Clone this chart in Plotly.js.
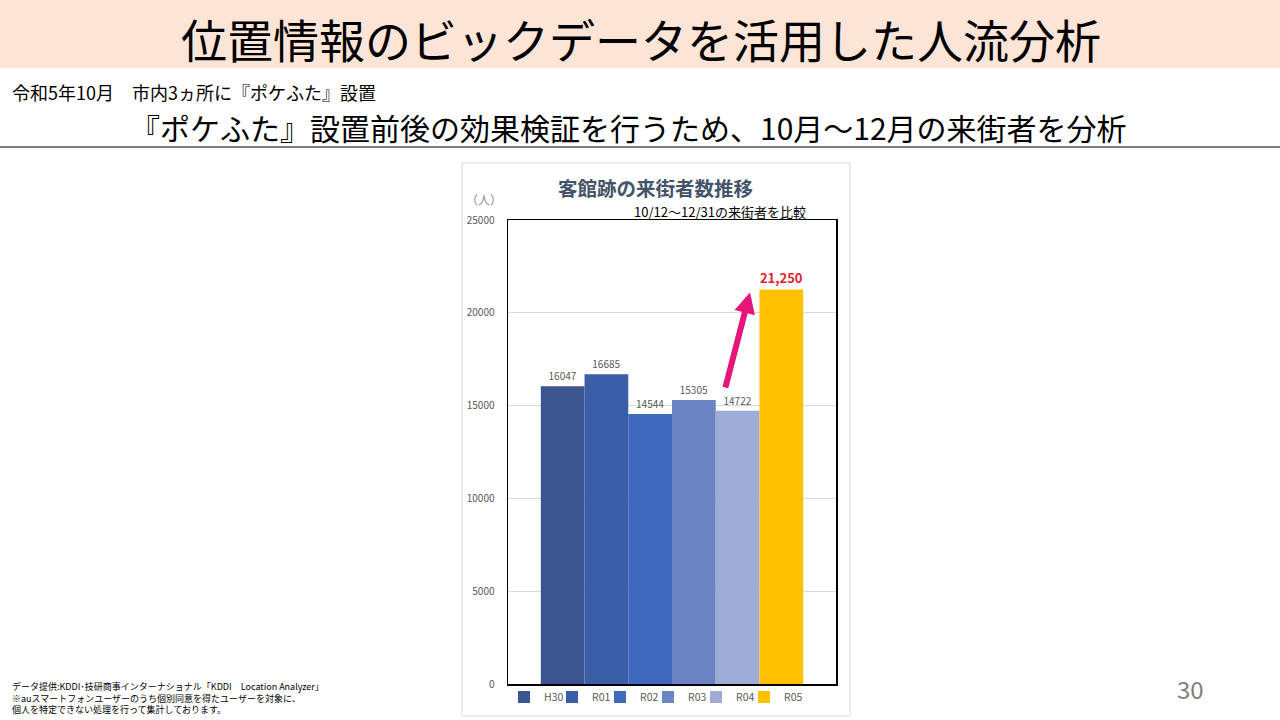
<!DOCTYPE html>
<html><head><meta charset="utf-8">
<script src="https://cdn.plot.ly/plotly-3.0.1.min.js"></script>
<style>html,body{margin:0;padding:0;background:#fff;}#chart{width:1280px;height:720px;}</style>
</head><body><div id="chart"></div>
<script>
const categories = ['H30','R01','R02','R03','R04','R05'];
const visitors = [16047, 16685, 14544, 15305, 14722, 21250];
const barColors = ['#3b5591','#3a5ea8','#3e69bd','#6a84c4','#a0acd8','#ffc000'];
const yTicks = [0, 5000, 10000, 15000, 20000, 25000];

const FONT = '"Noto Sans CJK JP", "Noto Sans", sans-serif';
const legendIds = categories.map((c, i) => i === 0 ? 'legend' : 'legend' + (i + 1));
const legendLeftPx = [504, 552, 600, 648, 696, 744];

const traces = categories.map((c, i) => {
  const last = i === categories.length - 1;
  return {
    type: 'bar', name: c, x: ['来街者'], y: [visitors[i]],
    marker: {color: barColors[i]},
    legend: legendIds[i],
    texttemplate: last ? '%{y:,}' : '%{y:d}',
    textposition: 'outside', cliponaxis: false,
    textfont: last ? {color: '#e0202a', size: 13, family: FONT, weight: 'bold'} : {color: '#595959', size: 10, family: FONT},
    hoverinfo: 'skip'
  };
});

const layout = {
  width: 1280, height: 720,
  margin: {l: 0, r: 0, t: 0, b: 0},
  paper_bgcolor: '#ffffff', plot_bgcolor: '#ffffff',
  font: {family: FONT, color: '#000'},
  barmode: 'group', bargap: 0.2, bargroupgap: 0,
  showlegend: true,
  xaxis: {domain: [508/1280, 836/1280], showticklabels: false, showgrid: false, zeroline: false,
    showline: true, mirror: true, linecolor: '#000', linewidth: 1.5, fixedrange: true},
  yaxis: {domain: [36/720, 500/720], range: [0, 25000], tickvals: yTicks, tickformat: 'd', showgrid: true,
    gridcolor: '#d9d9d9', gridwidth: 1, zeroline: false, showline: true, mirror: true,
    linecolor: '#000', linewidth: 1.5, ticks: '', ticklabelstandoff: 10,
    tickfont: {size: 10, color: '#595959', family: FONT}},
  shapes: [
    {type: 'rect', xref: 'paper', yref: 'paper', x0: 0, x1: 1, y0: 1 - 68/720, y1: 1, fillcolor: '#fce4d6', line: {width: 0}, layer: 'below'},
    {type: 'line', xref: 'paper', yref: 'paper', x0: 0, x1: 1, y0: 1 - 147/720, y1: 1 - 147/720, line: {color: '#000', width: 1}},
    {type: 'rect', xref: 'paper', yref: 'paper', x0: 462/1280, x1: 850/1280, y0: 1 - 716/720, y1: 1 - 163/720, line: {color: '#d9d9d9', width: 1}, fillcolor: 'rgba(0,0,0,0)', layer: 'below'}
  ],
  annotations: [
    {text: '位置情報のビックデータを活用した人流分析', xref: 'paper', yref: 'paper', x: 641/1280, y: 1 - 38/720, xanchor: 'center', yanchor: 'middle', showarrow: false, font: {size: 46, color: '#000', family: FONT}},
    {text: '令和5年10月　市内3ヵ所に『ポケふた』設置', xref: 'paper', yref: 'paper', x: 10/1280, y: 1 - 92/720, xanchor: 'left', yanchor: 'middle', showarrow: false, font: {size: 18, color: '#000', family: FONT}},
    {text: '『ポケふた』設置前後の効果検証を行うため、10月～12月の来街者を分析', xref: 'paper', yref: 'paper', x: 628/1280, y: 1 - 127/720, xanchor: 'center', yanchor: 'middle', showarrow: false, font: {size: 30, color: '#000', family: FONT}},
    {text: '<b>客館跡の来街者数推移</b>', xref: 'paper', yref: 'paper', x: 655/1280, y: 1 - 188/720, xanchor: 'center', yanchor: 'middle', showarrow: false, font: {size: 19.5, color: '#44546a', family: FONT}},
    {text: '（人）', xref: 'paper', yref: 'paper', x: 484/1280, y: 1 - 199/720, xanchor: 'center', yanchor: 'middle', showarrow: false, font: {size: 12, color: '#8c8c8c', family: FONT}},
    {text: '10/12～12/31の来街者を比較', xref: 'paper', yref: 'paper', x: 720/1280, y: 1 - 211/720, xanchor: 'center', yanchor: 'middle', showarrow: false, font: {size: 13, color: '#000', family: FONT}},
    {text: '', xref: 'paper', yref: 'y', axref: 'paper', ayref: 'y', x: 750/1280, y: 21100, ax: 725/1280, ay: 15900, showarrow: true, arrowhead: 2, arrowsize: 0.7, arrowwidth: 6, arrowcolor: '#e6157a'},
    {text: '30', xref: 'paper', yref: 'paper', x: 1190/1280, y: 1 - 688/720, xanchor: 'center', yanchor: 'middle', showarrow: false, font: {size: 24, color: '#7f7f7f', family: FONT}},
    {text: 'データ提供:KDDI･技研商事インターナショナル「KDDI　Location Analyzer」<br>※auスマートフォンユーザーのうち個別同意を得たユーザーを対象に、<br>個人を特定できない処理を行って集計しております。', xref: 'paper', yref: 'paper', x: 10/1280, y: 1 - 698/720, xanchor: 'left', yanchor: 'middle', align: 'left', showarrow: false, font: {size: 9, color: '#000', family: FONT}}
  ]
};
legendIds.forEach((id, i) => {
  layout[id] = {orientation: 'h', x: legendLeftPx[i]/1280, xanchor: 'left', y: 0.032, yanchor: 'middle',
    font: {size: 10.5, color: '#595959', family: FONT}, itemwidth: 30, bgcolor: 'rgba(0,0,0,0)'};
});
Plotly.newPlot('chart', traces, layout, {staticPlot: true});
</script></body></html>
